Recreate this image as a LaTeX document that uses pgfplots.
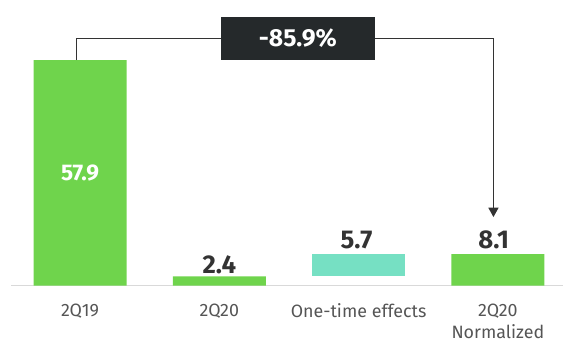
\documentclass[border=0pt]{standalone}
\usepackage{pgfplots}
\pgfplotsset{compat=1.18}
\usepackage{fontspec}
\setmainfont{Fira Sans}
\usetikzlibrary{arrows.meta}

\definecolor{barGreen}{HTML}{6FD44C}
\definecolor{barTeal}{HTML}{76E0C3}
\definecolor{valText}{HTML}{333333}
\definecolor{tickText}{HTML}{555555}
\definecolor{boxDark}{HTML}{25292B}
\definecolor{baseGray}{HTML}{D9D9D9}

\begin{document}
\begin{tikzpicture}
% fixed canvas: 563 x 343 units of 0.75pt
\path[use as bounding box] (0,0) rectangle (422.25pt,257.25pt);
\begin{axis}[
    at={(60pt,42.975pt)}, anchor=origin,
    scale only axis,
    x=104.475pt, y=2.9235pt,
    xmin=-0.495, xmax=3.467,
    ymin=0, ymax=70,
    clip=false,
    axis y line=none,
    axis x line*=bottom,
    x axis line style={draw=baseGray, line width=0.9pt, -},
    xtick={0,1,2,3},
    xticklabels={2Q19,2Q20,One-time effects,{2Q20\\Normalized}},
    major tick length=0pt,
    xticklabel style={anchor=north, inner sep=0pt, yshift=-13.5pt, align=center,
        text=tickText, font=\fontsize{13.4pt}{16.8pt}\selectfont},
]
% regular bars
\addplot[ybar, bar width=69.75pt, fill=barGreen, draw=none]
    coordinates {(0,57.9) (1,2.4) (3,8.1)};
% one-time effects, floating from 2.4 up to 8.1
\addplot[fill=barTeal, draw=none]
    coordinates {(1.6662,2.4) (2.3338,2.4) (2.3338,8.1) (1.6662,8.1)} -- cycle;

% value labels
\node[text=white, font=\fontsize{17pt}{17pt}\bfseries\selectfont]
    at (axis cs:0,28.95) {57.9};
\node[anchor=base, yshift=2.5pt, inner sep=0pt, text=valText,
      font=\fontsize{19.3pt}{19.3pt}\bfseries\selectfont]
    at (axis cs:1,2.4) {2.4};
\node[anchor=base, yshift=4pt, inner sep=0pt, text=valText,
      font=\fontsize{19.3pt}{19.3pt}\bfseries\selectfont]
    at (axis cs:1.985,8.1) {5.7};
\node[anchor=base, yshift=4.5pt, inner sep=0pt, text=valText,
      font=\fontsize{19.3pt}{19.3pt}\bfseries\selectfont]
    at (axis cs:2.97,8.1) {8.1};

% change bracket from 2Q19 to normalized 2Q20
\draw[valText, line width=0.8pt, -{Triangle[length=7pt, width=7.5pt]}]
    (axis cs:-0.024,57.9) -- ([yshift=16.1pt]axis cs:-0.024,57.9)
    -| ([yshift=27.8pt]axis cs:2.968,8.1);
\node[fill=boxDark, text=white, minimum width=115.7pt, minimum height=32.25pt,
      inner sep=0pt, font=\fontsize{18.5pt}{18.5pt}\bfseries\selectfont]
    at ([yshift=16.1pt]axis cs:1.564,57.9) {-85.9\%};
\end{axis}
\end{tikzpicture}
\end{document}
